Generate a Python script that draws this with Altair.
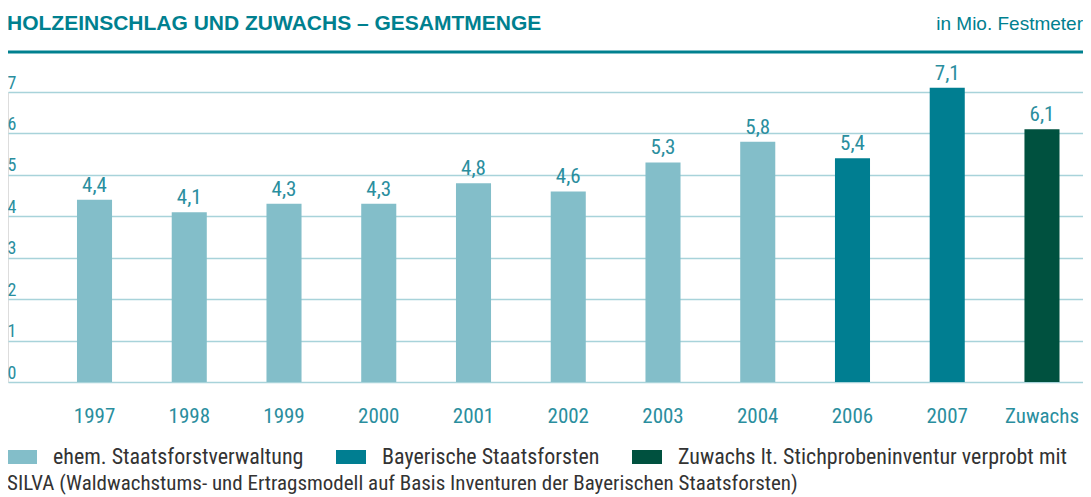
import altair as alt
import pandas as pd

categories = ["1997", "1998", "1999", "2000", "2001", "2002", "2003", "2004", "2006", "2007", "Zuwachs"]
values = [4.4, 4.1, 4.3, 4.3, 4.8, 4.6, 5.3, 5.8, 5.4, 7.1, 6.1]
series_names = [
    "ehem. Staatsforstverwaltung",
    "Bayerische Staatsforsten",
    "Zuwachs lt. Stichprobeninventur verprobt mit",
]
series = [series_names[0]] * 8 + [series_names[1]] * 2 + [series_names[2]]
y_ticks = [0, 1, 2, 3, 4, 5, 6, 7]

title_text = "HOLZEINSCHLAG UND ZUWACHS – GESAMTMENGE"
unit_text = "in Mio. Festmeter"
footnote_text = "SILVA (Waldwachstums- und Ertragsmodell auf Basis Inventuren der Bayerischen Staatsforsten)"

FONT = "Liberation Sans Narrow, Roboto Condensed, Arial Narrow, Roboto, sans-serif"
WIDE = "Liberation Sans, Arial, Roboto, sans-serif"
TEAL = "#00808f"
LABEL = "#2a8e9e"
GRID = "#a8d3da"
W, H = 1075, 290

df = pd.DataFrame({"cat": categories, "val": values, "series": series})

x_enc = alt.X(
    "cat:N",
    sort=categories,
    scale=alt.Scale(paddingInner=0.63, paddingOuter=0.488, align=0.746),
    axis=alt.Axis(
        title=None, labelAngle=0, ticks=False, tickSize=0, domain=False, grid=False,
        labelFont=FONT, labelFontSize=21, labelColor=LABEL, labelPadding=40,
        labelBaseline="alphabetic",
    ),
)
y_enc = alt.Y(
    "val:Q",
    scale=alt.Scale(domain=[0, 7], nice=False),
    axis=alt.Axis(
        title=None, values=y_ticks, ticks=False, tickSize=0, domain=False,
        grid=True, gridColor=GRID, gridWidth=1.6, gridOpacity=1,
        labelFont=FONT, labelFontSize=18, labelColor=LABEL, labelAlign="left",
        labelBaseline="alphabetic", labelPadding=1, labelOffset=-4,
    ),
)

bars = alt.Chart(df).mark_bar().encode(
    x=x_enc,
    y=y_enc,
    color=alt.Color(
        "series:N",
        scale=alt.Scale(domain=series_names, range=["#83bec9", "#007e91", "#00513f"]),
        legend=alt.Legend(
            title=None, orient="none", legendX=-1, legendY=350, direction="horizontal",
            padding=0, symbolType="M-1,-0.4667H1V0.4667H-1Z", symbolSize=900,
            symbolStrokeWidth=0, symbolOpacity=1, labelFont=FONT, labelFontSize=22,
            labelColor="#333333", labelLimit=0, symbolOffset=0, labelOffset=16,
            columnPadding=32,
        ),
    ),
)

labels = alt.Chart(df).transform_calculate(
    lab="replace(format(datum.val, '.1f'), '.', ',')"
).mark_text(
    font=FONT, fontSize=21, color=LABEL, baseline="alphabetic", dy=-8
).encode(x=alt.X("cat:N", sort=categories), y="val:Q", text="lab:N")

title = alt.Chart(pd.DataFrame({"t": [title_text]})).mark_text(
    font=WIDE, fontSize=21, fontWeight="bold", color=TEAL, align="left", baseline="alphabetic"
).encode(text="t:N", x=alt.value(-1), y=alt.value(-62))

unit = alt.Chart(pd.DataFrame({"t": [unit_text]})).mark_text(
    font=WIDE, fontSize=19, color=TEAL, align="right", baseline="alphabetic"
).encode(text="t:N", x=alt.value(W), y=alt.value(-62))

line = alt.Chart(pd.DataFrame({"t": [0]})).mark_rule(color=TEAL, strokeWidth=3).encode(
    x=alt.value(-1), x2=alt.value(W), y=alt.value(-40)
)

foot = alt.Chart(pd.DataFrame({"t": [footnote_text]})).mark_text(
    font=FONT, fontSize=21, color="#333333", align="left", baseline="alphabetic"
).encode(text="t:N", x=alt.value(-1), y=alt.value(398))

chart = alt.layer(bars, labels, title, unit, line, foot).properties(
    width=W, height=H,
    autosize=alt.AutoSizeParams(type="none"),
    padding={"left": 0, "top": 84, "right": 0, "bottom": 114},
).configure_view(stroke=None).configure(background="white")

chart.save("out.html", embed_options={"renderer": "svg", "actions": False})
